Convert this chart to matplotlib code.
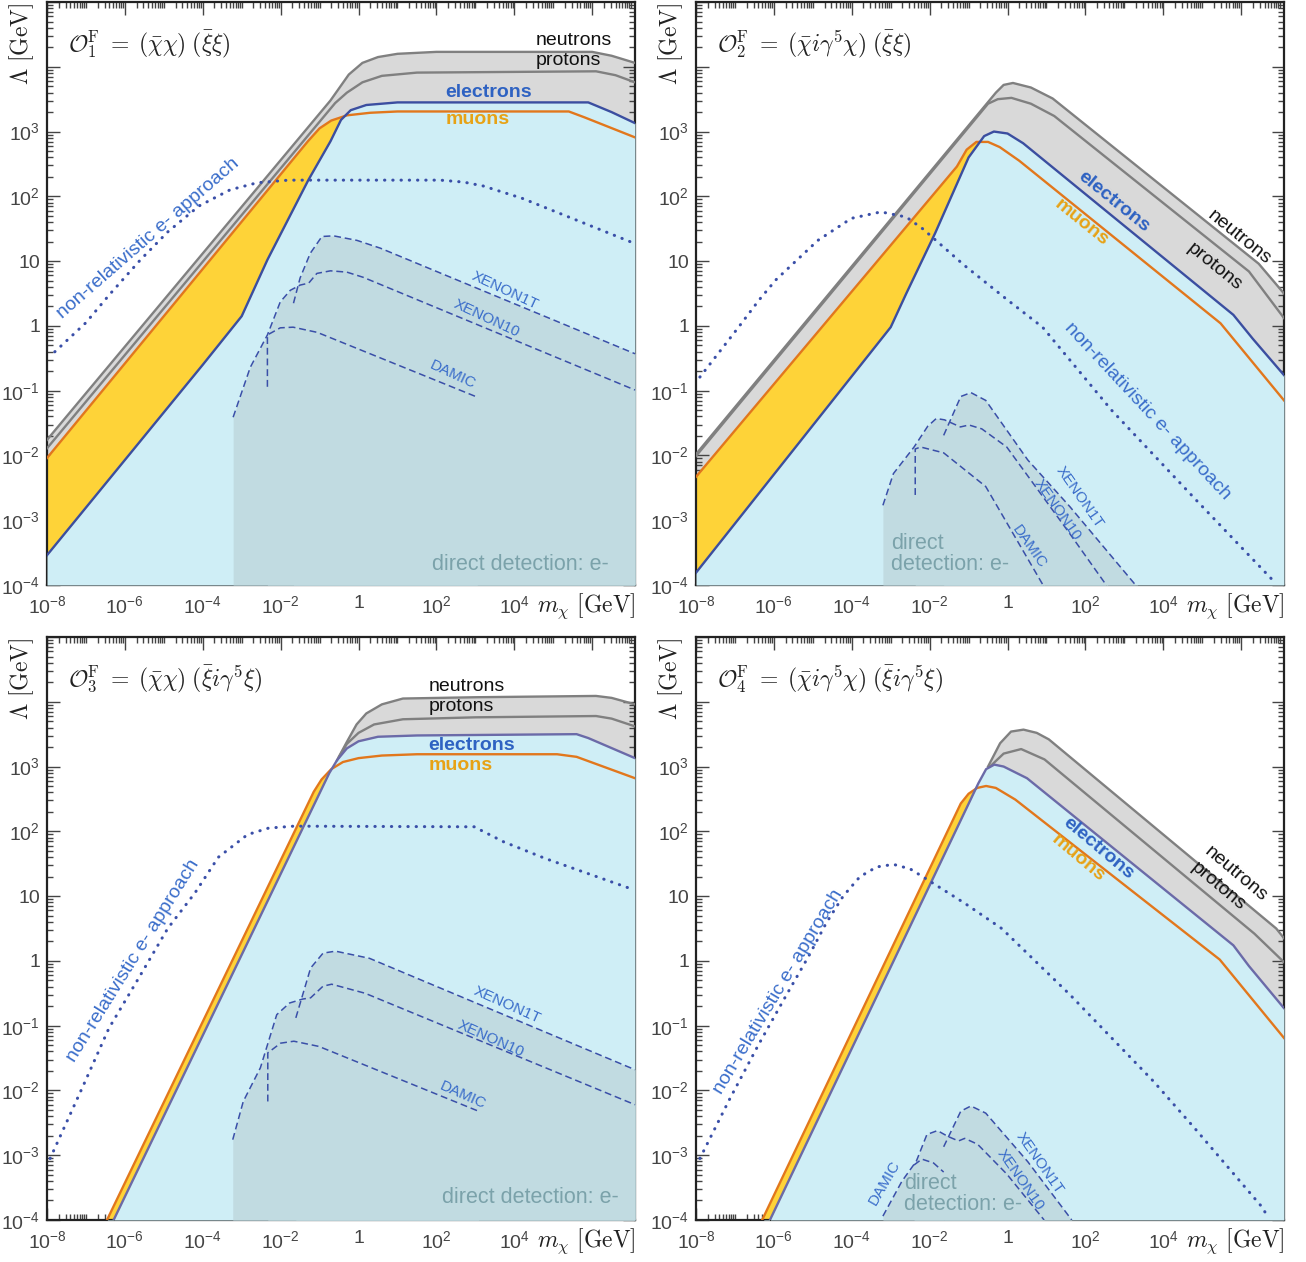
import numpy as np
import matplotlib
matplotlib.use("Agg")
import matplotlib.pyplot as plt
from matplotlib.ticker import FixedLocator, FixedFormatter, NullFormatter

plt.rcParams['font.family'] = ['Liberation Sans', 'DejaVu Sans']
plt.rcParams['mathtext.fontset'] = 'custom'
plt.rcParams['mathtext.rm'] = 'Liberation Sans'
plt.rcParams['mathtext.it'] = 'Liberation Sans:italic'
plt.rcParams['mathtext.bf'] = 'Liberation Sans:bold'
plt.rcParams['mathtext.sf'] = 'Liberation Sans'

# ---------------- axis ranges / ticks (log10 exponents) ----------------
X_MIN_EXP, X_MAX_EXP = -8.0, 7.1
Y_MIN_EXP, Y_MAX_EXP = -4.0, 5.0
X_TICK_EXP = [-8, -6, -4, -2, 0, 2, 4]
X_TICK_LABELS = ['10$^{-8}$', '10$^{-6}$', '10$^{-4}$', '10$^{-2}$', '1', '10$^{2}$', '10$^{4}$']
Y_TICK_EXP = [-4, -3, -2, -1, 0, 1, 2, 3]
Y_TICK_LABELS = ['10$^{-4}$', '10$^{-3}$', '10$^{-2}$', '10$^{-1}$', '1', '10', '10$^{2}$', '10$^{3}$']

# ---------------- data: (log10 m_chi [GeV], log10 Lambda [GeV]) ----------------
# Panel 1: O1
P1_NEUTRONS = [(-8, -1.76), (-0.72, 3.48), (-0.25, 3.88), (0.1, 4.06), (0.5, 4.15), (1.0, 4.2),
               (2.0, 4.23), (6.0, 4.23), (6.5, 4.17), (7.1, 4.06)]
P1_PROTONS = [(-8, -1.89), (-0.6, 3.44), (-0.3, 3.6), (0.1, 3.76), (0.6, 3.86), (1.5, 3.91),
              (6.1, 3.93), (6.6, 3.87), (7.1, 3.76)]
P1_ELECTRONS = [(-8, -3.54), (-4.0, -0.6), (-3.0, 0.15), (-2.34, 1.02), (-1.29, 2.25), (-0.72, 2.85),
                (-0.45, 3.18), (-0.2, 3.33), (0.2, 3.41), (1.0, 3.45), (5.9, 3.45), (6.5, 3.3), (7.1, 3.13)]
P1_MUONS = [(-8, -2.04), (-1.3, 2.85), (-1.0, 3.05), (-0.7, 3.17), (-0.3, 3.25), (0.3, 3.29),
            (1.0, 3.31), (5.4, 3.31), (5.8, 3.22), (7.1, 2.91)]
P1_NONREL = [(-7.8, -0.4), (-7.0, 0.05), (-6.4, 0.48), (-5.6, 1.02), (-4.9, 1.45), (-4.1, 1.85),
             (-3.3, 2.1), (-2.6, 2.21), (-1.8, 2.25), (2.1, 2.25), (2.7, 2.22), (3.2, 2.16),
             (4.2, 1.97), (7.1, 1.27)]
P1_XENON10 = [(-3.22, -1.41), (-2.78, -0.64), (-2.34, -0.14), (-2.01, 0.37), (-1.75, 0.55),
              (-1.5, 0.63), (-1.28, 0.66), (-1.07, 0.81), (-0.72, 0.85), (-0.3, 0.83),
              (0.12, 0.75), (7.1, -0.99)]
P1_XENON1T = [(-1.67, 0.35), (-1.5, 0.74), (-1.24, 1.12), (-0.94, 1.38), (-0.64, 1.39),
              (-0.04, 1.32), (0.56, 1.2), (7.1, -0.43)]
P1_DAMIC = [(-2.34, -0.94), (-2.34, -0.14), (-2.01, -0.03), (-1.68, -0.02), (-1.06, -0.1), (3.05, -1.1)]

# Panel 2: O2
P2_NEUTRONS = [(-8, -1.98), (-0.3, 3.6), (-0.1, 3.72), (0.14, 3.75), (0.6, 3.68), (1.16, 3.51),
               (6.45, 0.96), (7.1, 0.5)]
P2_PROTONS = [(-8, -2.01), (-0.5, 3.43), (-0.25, 3.5), (0.1, 3.52), (0.6, 3.43), (1.2, 3.24),
              (6.2, 0.84), (7.1, 0.12)]
P2_ELECTRONS = [(-8, -3.81), (-3.0, -0.02), (-2.6, 0.5), (-1.86, 1.43), (-1.0, 2.6), (-0.6, 2.93),
                (-0.35, 3.0), (0.0, 2.97), (0.4, 2.82), (5.8, 0.17), (6.3, -0.2), (7.1, -0.76)]
P2_MUONS = [(-8, -2.33), (-1.3, 2.46), (-1.05, 2.72), (-0.8, 2.84), (-0.5, 2.84), (-0.2, 2.76),
            (0.3, 2.55), (5.47, 0.04), (7.1, -1.15)]
P2_NONREL = [(-7.9, -0.79), (-6.92, -0.03), (-6.38, 0.4), (-5.95, 0.71), (-4.87, 1.32),
             (-4.01, 1.66), (-3.25, 1.76), (-2.6, 1.68), (-2.18, 1.5), (-1.1, 0.93), (0.0, 0.4),
             (0.9, -0.02), (2.67, -1.3), (4.83, -2.68), (6.85, -3.95)]
P2_XENON10 = [(-3.2, -2.77), (-2.93, -2.28), (-2.4, -1.87), (-2.05, -1.55), (-1.83, -1.43),
              (-1.62, -1.45), (-1.21, -1.56), (-0.99, -1.53), (-0.66, -1.59), (-0.02, -1.87),
              (1.59, -3.2), (2.57, -4.03)]
P2_XENON1T = [(-1.64, -1.69), (-1.2, -1.09), (-0.94, -1.03), (-0.56, -1.15), (0.52, -2.07),
              (1.6, -2.79), (3.33, -4.03)]
P2_DAMIC = [(-2.37, -2.61), (-2.37, -1.9), (-2.23, -1.87), (-1.64, -1.96), (-0.56, -2.48), (0.94, -4.03)]

# Panel 3: O3
P3_NEUTRONS = [(-0.55, 3.1), (-0.3, 3.38), (-0.05, 3.65), (0.2, 3.82), (0.6, 3.96), (1.14, 4.05),
               (3.0, 4.07), (6.1, 4.09), (6.5, 4.06), (7.1, 3.96)]
P3_PROTONS = [(-0.5, 3.15), (-0.3, 3.35), (0.0, 3.52), (0.4, 3.65), (1.14, 3.73), (3.0, 3.76),
              (6.1, 3.78), (6.5, 3.74), (7.1, 3.62)]
P3_ELECTRONS = [(-6.45, -4.2), (-3.06, 0.02), (-0.75, 2.9), (-0.55, 3.1), (-0.3, 3.28), (0.0, 3.39),
                (0.5, 3.46), (1.5, 3.48), (5.6, 3.5), (5.9, 3.44), (7.1, 3.13)]
P3_MUONS = [(-6.62, -4.2), (-3.23, 0.02), (-1.15, 2.61), (-0.95, 2.8), (-0.7, 2.96), (-0.4, 3.07),
            (0.0, 3.13), (0.6, 3.17), (1.5, 3.19), (5.1, 3.19), (5.6, 3.15), (7.1, 2.82)]
P3_NONREL = [(-7.92, -3.05), (-7.05, -1.9), (-6.41, -1.04), (-5.65, -0.27), (-4.9, 0.5),
             (-4.2, 1.05), (-3.6, 1.6), (-2.85, 1.95), (-2.31, 2.05), (-1.66, 2.08), (2.97, 2.07),
             (3.72, 1.84), (4.8, 1.58), (7.06, 1.1)]
P3_XENON10 = [(-3.23, -2.76), (-2.96, -2.17), (-2.52, -1.65), (-2.1, -0.83), (-1.77, -0.65),
              (-1.44, -0.59), (-1.23, -0.57), (-0.91, -0.39), (-0.69, -0.36), (0.17, -0.5), (7.1, -2.22)]
P3_XENON1T = [(-1.61, -0.88), (-1.23, -0.11), (-0.91, 0.12), (-0.59, 0.15), (0.28, 0.04), (7.1, -1.68)]
P3_DAMIC = [(-2.33, -2.17), (-2.33, -1.42), (-2.0, -1.27), (-1.66, -1.24), (-1.02, -1.32), (3.08, -2.32)]

# Panel 4: O4
P4_NEUTRONS = [(-0.5, 3.0), (-0.19, 3.36), (0.09, 3.54), (0.41, 3.57), (0.75, 3.52), (1.06, 3.42),
               (6.9, 0.5), (7.1, 0.35)]
P4_PROTONS = [(-0.45, 3.0), (-0.1, 3.2), (0.35, 3.27), (0.95, 3.11), (6.34, 0.42), (7.1, -0.02)]
P4_ELECTRONS = [(-6.26, -4.2), (-0.75, 2.74), (-0.55, 2.96), (-0.34, 3.03), (-0.1, 3.0), (0.5, 2.82),
                (5.8, 0.24), (6.2, -0.08), (7.1, -0.73)]
P4_MUONS = [(-6.46, -4.2), (-1.2, 2.43), (-1.0, 2.58), (-0.78, 2.67), (-0.55, 2.7), (-0.3, 2.67),
            (0.2, 2.49), (5.45, 0.02), (7.1, -1.19)]
P4_NONREL = [(-7.9, -3.05), (-7.15, -2.15), (-6.4, -1.3), (-5.7, -0.55), (-5.1, 0.08), (-4.66, 0.58),
             (-4.22, 1.0), (-3.79, 1.3), (-3.36, 1.45), (-2.93, 1.49), (-2.5, 1.42), (-2.18, 1.3),
             (-1.1, 0.89), (-0.15, 0.5), (1.6, -0.52), (3.75, -1.86), (4.83, -2.6), (6.55, -3.81),
             (6.65, -3.92)]
P4_XENON10 = [(-3.2, -3.94), (-2.71, -3.4), (-2.34, -3.09), (-2.07, -2.68), (-1.8, -2.62),
              (-1.53, -2.71), (-1.26, -2.78), (-1.1, -2.74), (-0.77, -2.83), (-0.02, -3.29), (0.94, -4.0)]
P4_XENON1T = [(-1.64, -2.87), (-1.2, -2.32), (-0.94, -2.24), (-0.56, -2.35), (0.52, -3.1), (1.65, -4.0)]
P4_DAMIC = [(-2.4, -3.15), (-2.2, -3.06), (-1.9, -3.12), (-1.64, -3.26)]

TITLES = [r'$\mathcal{O}_1^{\rm F}\;=\;(\bar{\chi}\chi)\;(\bar{\xi}\xi)$',
          r'$\mathcal{O}_2^{\rm F}\;=\;(\bar{\chi}i\gamma^5\chi)\;(\bar{\xi}\xi)$',
          r'$\mathcal{O}_3^{\rm F}\;=\;(\bar{\chi}\chi)\;(\bar{\xi}i\gamma^5\xi)$',
          r'$\mathcal{O}_4^{\rm F}\;=\;(\bar{\chi}i\gamma^5\chi)\;(\bar{\xi}i\gamma^5\xi)$']

# ---------------- styles ----------------
CYAN = '#cfeef6'
YELLOW = '#fed338'
GRAYFILL = '#d9d9d9'
GRAYLINE = '#808080'
DDFILL = '#c1dbe1'
ELEC_A = '#3b4ea0'
ELEC_B = '#6b6aa8'
MUON = '#e2771c'
DOT = '#3a4fa8'
TXT_BLUE = '#2e62c2'
TXT_MUON = '#e7a215'
TXT_DD = '#7ba2aa'
TXT_LINE = '#3a6dca'


def curve(pts):
    a = np.asarray(pts, float)
    return 10 ** a[:, 0], 10 ** a[:, 1]


def T(ax, lx, ly, s, **kw):
    ax.text(10 ** lx, 10 ** ly, s, **kw)


PANELS = [
    dict(neutrons=P1_NEUTRONS, protons=P1_PROTONS, electrons=P1_ELECTRONS, muons=P1_MUONS,
         nonrel=P1_NONREL, xenon10=P1_XENON10, xenon1t=P1_XENON1T, damic=P1_DAMIC, ecol=ELEC_A),
    dict(neutrons=P2_NEUTRONS, protons=P2_PROTONS, electrons=P2_ELECTRONS, muons=P2_MUONS,
         nonrel=P2_NONREL, xenon10=P2_XENON10, xenon1t=P2_XENON1T, damic=P2_DAMIC, ecol=ELEC_A),
    dict(neutrons=P3_NEUTRONS, protons=P3_PROTONS, electrons=P3_ELECTRONS, muons=P3_MUONS,
         nonrel=P3_NONREL, xenon10=P3_XENON10, xenon1t=P3_XENON1T, damic=P3_DAMIC, ecol=ELEC_B),
    dict(neutrons=P4_NEUTRONS, protons=P4_PROTONS, electrons=P4_ELECTRONS, muons=P4_MUONS,
         nonrel=P4_NONREL, xenon10=P4_XENON10, xenon1t=P4_XENON1T, damic=P4_DAMIC, ecol=ELEC_B),
]

W, H = 1306, 1262
fig = plt.figure(figsize=(W / 100, H / 100), dpi=100)
AX_W, AX_H = 588, 583
POS = [(47, 2), (696, 2), (47, 637), (696, 637)]
axes = []
for (px, py) in POS:
    ax = fig.add_axes([px / W, 1 - (py + AX_H) / H, AX_W / W, AX_H / H])
    axes.append(ax)


def style_axis(ax):
    ax.set_xscale('log')
    ax.set_yscale('log')
    ax.set_xlim(10 ** X_MIN_EXP, 10 ** X_MAX_EXP)
    ax.set_ylim(10 ** Y_MIN_EXP, 10 ** Y_MAX_EXP)
    xmaj = [10.0 ** e for e in range(-8, 8, 2)]
    xmin = [k * 10.0 ** e for e in range(-8, 8) for k in range(1, 10)
            if not (k == 1 and e % 2 == 0)]
    ax.xaxis.set_major_locator(FixedLocator(xmaj))
    ax.xaxis.set_minor_locator(FixedLocator(xmin))
    ax.xaxis.set_major_formatter(FixedFormatter(X_TICK_LABELS + ['']))
    ax.xaxis.set_minor_formatter(NullFormatter())
    ymaj = [10.0 ** e for e in range(-4, 6)]
    ymin = [k * 10.0 ** e for e in range(-4, 5) for k in range(2, 10)]
    ax.yaxis.set_major_locator(FixedLocator(ymaj))
    ax.yaxis.set_minor_locator(FixedLocator(ymin))
    ax.yaxis.set_major_formatter(FixedFormatter(Y_TICK_LABELS + ['', '']))
    ax.yaxis.set_minor_formatter(NullFormatter())
    ax.tick_params(which='both', direction='in', top=True, right=True, color='#444444', width=1.0)
    ax.tick_params(which='major', length=9)
    ax.tick_params(which='minor', length=4.5)
    ax.tick_params(axis='x', which='both', pad=7, labelsize=14, labelcolor='#444444')
    ax.tick_params(axis='y', which='both', pad=5, labelsize=14, labelcolor='#444444')
    for sp in ax.spines.values():
        sp.set_linewidth(1.6)
        sp.set_color('#222222')
    ax.text(-0.0425, 0.928, r'$\Lambda\ [\mathrm{GeV}]$', transform=ax.transAxes, rotation=90,
            ha='center', va='center', fontsize=17, math_fontfamily='cm', color='#222222')
    ax.text(1.0, -0.036, r'$m_\chi\ [\mathrm{GeV}]$', transform=ax.transAxes,
            ha='right', va='center', fontsize=17, math_fontfamily='cm', color='#222222')


def draw_panel(ax, p, title):
    ymin = 10 ** Y_MIN_EXP
    x, y = curve(p['neutrons'])
    ax.fill_between(x, ymin, y, color=GRAYFILL, lw=0, zorder=1)
    x, y = curve(p['muons'])
    ax.fill_between(x, ymin, y, color=YELLOW, lw=0, zorder=2)
    x, y = curve(p['electrons'])
    ax.fill_between(x, ymin, y, color=CYAN, lw=0, zorder=3)
    for k in ('xenon10', 'xenon1t', 'damic'):
        x, y = curve(p[k])
        ax.fill_between(x, ymin, y, color=DDFILL, lw=0, zorder=4)
    for k in ('neutrons', 'protons'):
        x, y = curve(p[k])
        ax.plot(x, y, color=GRAYLINE, lw=1.7, zorder=5, solid_joinstyle='round')
    x, y = curve(p['muons'])
    ax.plot(x, y, color=MUON, lw=1.7, zorder=6, solid_joinstyle='round')
    x, y = curve(p['electrons'])
    ax.plot(x, y, color=p['ecol'], lw=1.7, zorder=7, solid_joinstyle='round')
    for k in ('xenon10', 'xenon1t', 'damic'):
        x, y = curve(p[k])
        ax.plot(x, y, color=DOT, lw=1.1, ls=(0, (4.5, 2.5)), zorder=8)
    x, y = curve(p['nonrel'])
    ax.plot(x, y, color=DOT, lw=2.2, ls=(0, (0.1, 2.6)), dash_capstyle='round', zorder=9)
    ax.text(0.036, 0.928, title, transform=ax.transAxes, ha='left', va='center',
            fontsize=17, math_fontfamily='cm', color='#222222', zorder=10)


for ax, p, t in zip(axes, PANELS, TITLES):
    style_axis(ax)
    draw_panel(ax, p, t)

kw_n = dict(fontsize=14, color='#111111', zorder=11)
kw_e = dict(fontsize=14, color=TXT_BLUE, fontweight='bold', zorder=11)
kw_m = dict(fontsize=14, color=TXT_MUON, fontweight='bold', zorder=11)
kw_x = dict(fontsize=11, color=TXT_LINE, zorder=11, ha='center', va='center', rotation_mode='anchor')
kw_nr = dict(fontsize=14, color=TXT_LINE, zorder=11, ha='center', va='center', rotation_mode='anchor')
kw_dd = dict(fontsize=15.5, color=TXT_DD, zorder=11)
NR = 'non-relativistic e- approach'
DD = 'direct detection: e-'

# panel 1
a = axes[0]
T(a, 4.545, 4.41, 'neutrons', ha='left', va='center', **kw_n)
T(a, 4.545, 4.10, 'protons', ha='left', va='center', **kw_n)
T(a, 2.23, 3.61, 'electrons', ha='left', va='center', **kw_e)
T(a, 2.23, 3.18, 'muons', ha='left', va='center', **kw_m)
T(a, -5.40, 1.345, NR, rotation=41, **kw_nr)
T(a, 3.77, 0.55, 'XENON1T', rotation=-25, **kw_x)
T(a, 3.28, 0.12, 'XENON10', rotation=-25, **kw_x)
T(a, 2.41, -0.76, 'DAMIC', rotation=-25, **kw_x)
T(a, 6.42, -3.68, DD, ha='right', va='center', **kw_dd)

# panel 2
a = axes[1]
rot = dict(rotation_mode='anchor', ha='center', va='center')
T(a, 5.96, 1.37, 'neutrons', rotation=-39, **rot, **kw_n)
T(a, 5.32, 0.91, 'protons', rotation=-39, **rot, **kw_n)
T(a, 2.72, 1.91, 'electrons', rotation=-39, **rot, **kw_e)
T(a, 1.90, 1.60, 'muons', rotation=-39, **rot, **kw_m)
T(a, 3.59, -1.31, NR, rotation=-47, **kw_nr)
T(a, 1.85, -2.64, 'XENON1T', rotation=-55, **kw_x)
T(a, 1.28, -2.84, 'XENON10', rotation=-55, **kw_x)
T(a, 0.56, -3.41, 'DAMIC', rotation=-55, **kw_x)
T(a, -2.99, -3.52, 'direct\ndetection: e-', ha='left', va='center', linespacing=1.0, **kw_dd)

# panel 3
a = axes[2]
T(a, 1.79, 4.24, 'neutrons', ha='left', va='center', **kw_n)
T(a, 1.79, 3.92, 'protons', ha='left', va='center', **kw_n)
T(a, 1.79, 3.33, 'electrons', ha='left', va='center', **kw_e)
T(a, 1.79, 3.02, 'muons', ha='left', va='center', **kw_m)
T(a, -5.79, 0.0, NR, rotation=58, **kw_nr)
T(a, 3.83, -0.68, 'XENON1T', rotation=-24, **kw_x)
T(a, 3.40, -1.20, 'XENON10', rotation=-24, **kw_x)
T(a, 2.68, -2.07, 'DAMIC', rotation=-24, **kw_x)
T(a, 6.68, -3.66, DD, ha='right', va='center', **kw_dd)

# panel 4
a = axes[3]
T(a, 5.86, 1.34, 'neutrons', rotation=-40, **rot, **kw_n)
T(a, 5.42, 1.15, 'protons', rotation=-40, **rot, **kw_n)
T(a, 2.33, 1.73, 'electrons', rotation=-40, **rot, **kw_e)
T(a, 1.82, 1.59, 'muons', rotation=-40, **rot, **kw_m)
T(a, -5.89, -0.47, NR, rotation=59, **kw_nr)
T(a, 0.82, -3.12, 'XENON1T', rotation=-55, **kw_x)
T(a, 0.33, -3.38, 'XENON10', rotation=-55, **kw_x)
T(a, -3.17, -3.43, 'DAMIC', rotation=60, **kw_x)
T(a, -2.65, -3.6, 'direct\ndetection: e-', ha='left', va='center', linespacing=1.0, **kw_dd)

fig.savefig('out.png', dpi=100)
